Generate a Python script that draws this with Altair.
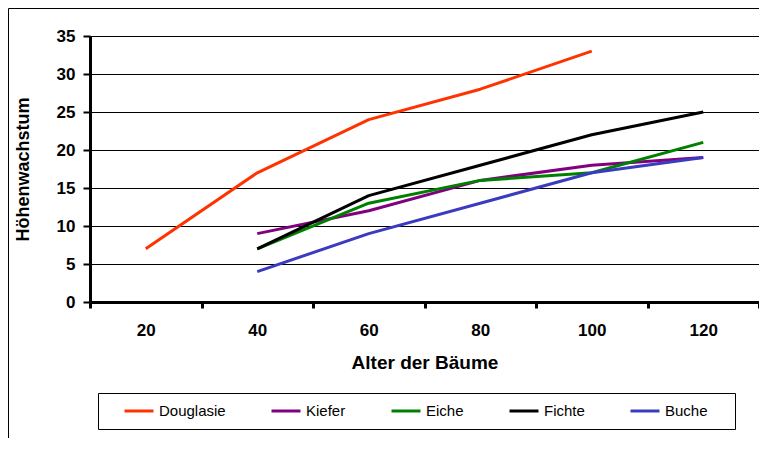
import altair as alt
import pandas as pd

ages = ["20", "40", "60", "80", "100", "120"]
douglasie = [7, 17, 24, 28, 33, None]
kiefer = [None, 9, 12, 16, 18, 19]
eiche = [None, 7, 13, 16, 17, 21]
fichte = [None, 7, 14, 18, 22, 25]
buche = [None, 4, 9, 13, 17, 19]

series = ["Douglasie", "Kiefer", "Eiche", "Fichte", "Buche"]
colors = ["#FF3300", "#800080", "#008000", "#000000", "#3B3BC0"]
widths = [3, 3, 3, 3, 1.5]

rows = []
for name, vals in zip(series, [douglasie, kiefer, eiche, fichte, buche]):
    for a, v in zip(ages, vals):
        if v is not None:
            rows.append({"alter": a, "hoehe": v, "art": name})
df = pd.DataFrame(rows)

FONT = "Liberation Sans"

legend_opts = dict(
    title=None,
    orient="none",
    legendX=33,
    legendY=359,
    direction="horizontal",
    columns=5,
    columnPadding=39,
    symbolType="stroke",
    symbolSize=841,
    labelOffset=4,
    labelFont=FONT,
    labelFontSize=15,
    labelColor="black",
    padding=0,
)

lines = alt.Chart(df).mark_line(strokeJoin="round", strokeCap="butt").encode(
    x=alt.X(
        "alter:O",
        sort=ages,
        scale=alt.Scale(type="band", paddingInner=0, paddingOuter=0),
        axis=alt.Axis(
            title="Alter der Bäume",
            labelAngle=0,
            tickBand="extent",
            grid=False,
            domainColor="black",
            domainWidth=3,
            tickColor="black",
            tickWidth=3,
            tickSize=6,
            labelFont=FONT,
            labelFontSize=17,
            labelFontWeight="bold",
            labelColor="black",
            labelPadding=14,
            titleFont=FONT,
            titleFontSize=19,
            titleFontWeight="bold",
            titleColor="black",
            titlePadding=15,
        ),
    ),
    y=alt.Y(
        "hoehe:Q",
        scale=alt.Scale(domain=[0, 35], nice=False),
        axis=alt.Axis(
            title="Höhenwachstum",
            values=[0, 5, 10, 15, 20, 25, 30, 35],
            grid=True,
            gridColor="black",
            gridWidth=1,
            domainColor="black",
            domainWidth=3,
            tickColor="black",
            tickWidth=2,
            tickSize=7,
            labelFont=FONT,
            labelFontSize=17,
            labelFontWeight="bold",
            labelColor="black",
            labelPadding=8,
            titleFont=FONT,
            titleFontSize=18,
            titleFontWeight="bold",
            titleColor="black",
            titleX=-67,
            titleY=133,
            titleAngle=-90,
            titleBaseline="middle",
            titleAlign="center",
        ),
    ),
    color=alt.Color(
        "art:N",
        sort=series,
        scale=alt.Scale(domain=series, range=colors),
        legend=alt.Legend(**legend_opts),
    ),
    strokeWidth=alt.StrokeWidth(
        "art:N",
        sort=series,
        scale=alt.Scale(domain=series, range=widths),
        legend=alt.Legend(**legend_opts),
    ),
)

one = pd.DataFrame({"k": [0]})

legend_box = alt.Chart(one).mark_rect(filled=False, stroke="black", strokeWidth=1).encode(
    x=alt.value(8.5), x2=alt.value(645.5), y=alt.value(357.5), y2=alt.value(393.5)
)

frame = alt.Chart(one).mark_rect(filled=False, stroke="black", strokeWidth=1).encode(
    x=alt.value(-81.5), x2=alt.value(900), y=alt.value(-27.5), y2=alt.value(900)
)

chart = alt.layer(frame, lines, legend_box).properties(
    width=669,
    height=266,
    autosize=alt.AutoSizeParams(type="none"),
    padding={"left": 82, "top": 28, "right": 0, "bottom": 136},
    background="white",
).configure_view(stroke="#808080", strokeWidth=1)

chart.save("out.html", embed_options={"renderer": "svg", "actions": False})
